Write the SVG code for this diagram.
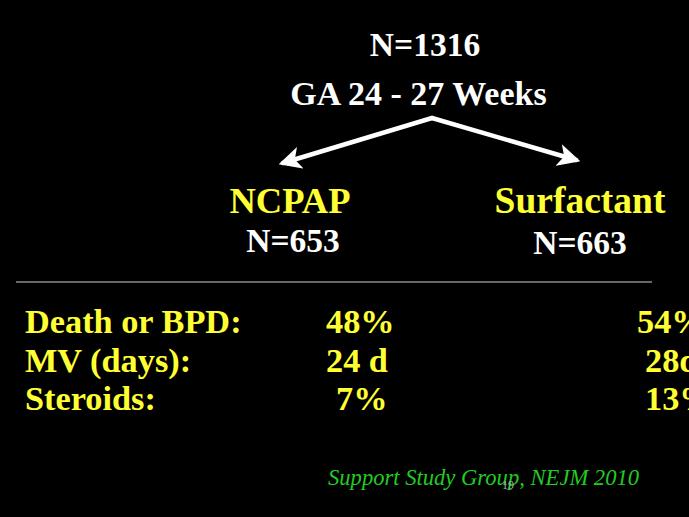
<svg xmlns="http://www.w3.org/2000/svg" width="689" height="517" viewBox="0 0 689 517">
<style>
.t{font-family:"Liberation Serif","Times New Roman",serif;font-weight:bold}
.w{fill:#ffffff}
.y{fill:#ffff33}
.c{text-anchor:middle}
.cite{font-family:"Liberation Serif","Times New Roman",serif;font-style:italic;fill:#22cc22;font-size:22.6px}
</style>
<defs>
<marker id="ah" viewBox="0 0 10 10" refX="8" refY="5" markerWidth="5" markerHeight="5" orient="auto" markerUnits="strokeWidth">
<path d="M0,0 L10,5 L0,10 L2.5,5 z" fill="#ffffff"/>
</marker>
</defs>
<rect width="689" height="517" fill="#000000"/>
<g id="root">
<text class="t w c" x="425" y="56" font-size="33.5">N=1316</text>
<text class="t w c" x="418.5" y="105" font-size="34">GA 24 - 27 Weeks</text>
</g>
<g id="connectors" stroke="#ffffff" stroke-width="4.5" fill="none" stroke-linecap="round">
<line x1="432" y1="118" x2="283" y2="163" marker-end="url(#ah)"/>
<line x1="432" y1="118" x2="576" y2="160" marker-end="url(#ah)"/>
</g>
<g id="ncpap">
<text class="t y c" x="290" y="213" font-size="36.5">NCPAP</text>
<text class="t w c" x="293" y="252" font-size="33.5">N=653</text>
</g>
<g id="surfactant">
<text class="t y c" x="580" y="213" font-size="37.5">Surfactant</text>
<text class="t w c" x="580" y="254" font-size="33.5">N=663</text>
</g>
<line x1="16" y1="282" x2="652" y2="282" stroke="#8a8a8a" stroke-width="1.3"/>
<g id="table" class="t y" font-size="34.3">
<text x="25" y="333">Death or BPD:</text>
<text x="326" y="333">48%</text>
<text x="637" y="333">54%</text>
<text x="25" y="372">MV (days):</text>
<text x="326" y="372">24 d</text>
<text x="645" y="372">28d</text>
<text x="25" y="410">Steroids:</text>
<text x="336" y="410">7%</text>
<text x="645" y="410">13%</text>
</g>
<text class="cite" x="328" y="485">Support Study Group, NEJM 2010</text>
<text x="502" y="489" font-family="Liberation Serif, serif" font-size="12" fill="#aaaaaa">19</text>
</svg>
